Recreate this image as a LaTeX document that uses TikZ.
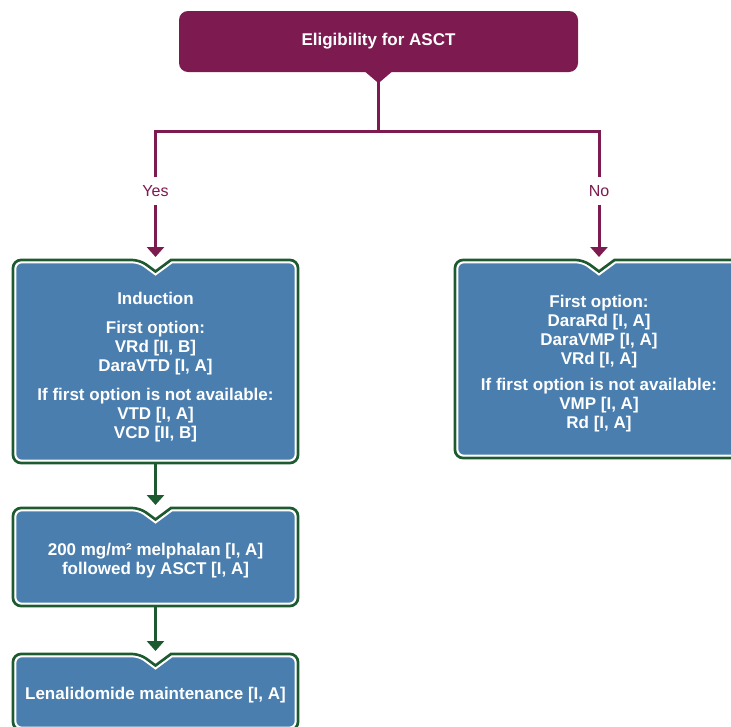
\documentclass[tikz,border=0pt]{standalone}
\usepackage{fontspec}
\setmainfont{Liberation Sans}
\usetikzlibrary{calc,positioning,arrows.meta,backgrounds}
\definecolor{plum}{HTML}{7D1A4F}
\definecolor{steel}{HTML}{4A7EAE}
\definecolor{pine}{HTML}{1E5A30}
\newcommand\notchbox[1]{%
\begin{scope}[on background layer]
\draw[pine,line width=2.7pt,rounded corners=8pt](#1.north west)--($(#1.north)+(-15.5,0)$)[sharp corners]--($(#1.north)+(0,11.5)$)--($(#1.north)+(15.5,0)$)[rounded corners=8pt]--(#1.north east)--(#1.south east)--(#1.south west)--cycle;
\draw[white,fill=steel,line width=1.6pt,rounded corners=6pt]($(#1.north west)+(2.6,2.6)$)--($(#1.north)+(-16.4,2.6)$)[sharp corners]--($(#1.north)+(0,14.7)$)--($(#1.north)+(16.4,2.6)$)[rounded corners=6pt]--($(#1.north east)+(-2.6,2.6)$)--($(#1.south east)+(-2.6,-2.6)$)--($(#1.south west)+(2.6,-2.6)$)--cycle;
\end{scope}}
\tikzset{
plumline/.style={plum,line width=3pt},
plumarrow/.style={plumline,-{Triangle[width=17pt,length=10pt]},shorten >=3pt},
pinearrow/.style={pine,line width=3pt,-{Triangle[width=17pt,length=10pt]},shorten >=3pt},
eligbox/.style={fill=plum,rounded corners=9pt,text=white,font=\bfseries\fontsize{17}{19}\selectfont,minimum width=399pt,minimum height=61pt},
stepbox/.style={minimum width=285pt,outer sep=0pt,inner sep=0pt},
steptext/.style={text=white,font=\bfseries\fontsize{17}{19}\selectfont,align=center,inner sep=0pt},
branch/.style={text=plum,font=\fontsize{16}{18}\selectfont,fill=white,inner sep=8pt}
}

\begin{document}
\begin{tikzpicture}[x=1pt,y=-1pt]
\useasboundingbox(0,0)rectangle(731,726);
\node[eligbox](elig)at(378.5,41.5){Eligibility for ASCT};
\fill[plum]($(elig.south)+(-14,-1)$)--($(elig.south)+(0,11)$)--($(elig.south)+(14,-1)$)--cycle;
\node[stepbox,minimum height=203pt](ind)at(155.5,361.5){};
\node[stepbox,minimum width=288pt,minimum height=198pt](noasct)at(599,359){};
\node[stepbox,minimum height=98pt,below=45pt of ind](mel){};
\node[stepbox,minimum height=76pt,below=48pt of mel](lena){};
\foreach \b in{ind,noasct,mel,lena}
{\notchbox{\b}}
\node[steptext](indtext)at($(ind)+(0,5.5)$){Induction\\[10pt]First option:\\VRd [II, B]\\DaraVTD [I, A]\\[10pt]If first option is not available:\\VTD [I, A]\\VCD [II, B]};
\node[steptext](noascttext)at($(noasct)+(0,4.5)$){First option:\\DaraRd [I, A]\\DaraVMP [I, A]\\VRd [I, A]\\[7pt]If first option is not available:\\VMP [I, A]\\Rd [I, A]};
\node[steptext](meltext)at($(mel)+(0,4)$){200 mg/m² melphalan [I, A]\\followed by ASCT [I, A]};
\node[steptext](lenatext)at($(lena)+(0,3)$){Lenalidomide maintenance [I, A]};
\coordinate(split)at(378.5,131);
\draw[plumline](elig)--(split);
\node[branch](yes)at(155.5,191){Yes};
\node[branch](no)at(599,191){No};
\draw[plumline](yes)|-(split)-|(no);
\draw[plumarrow](yes)--(ind);
\draw[plumarrow](no)--(noasct);
\draw[pinearrow](ind)--(mel);
\draw[pinearrow](mel)--(lena);
\end{tikzpicture}
\end{document}
